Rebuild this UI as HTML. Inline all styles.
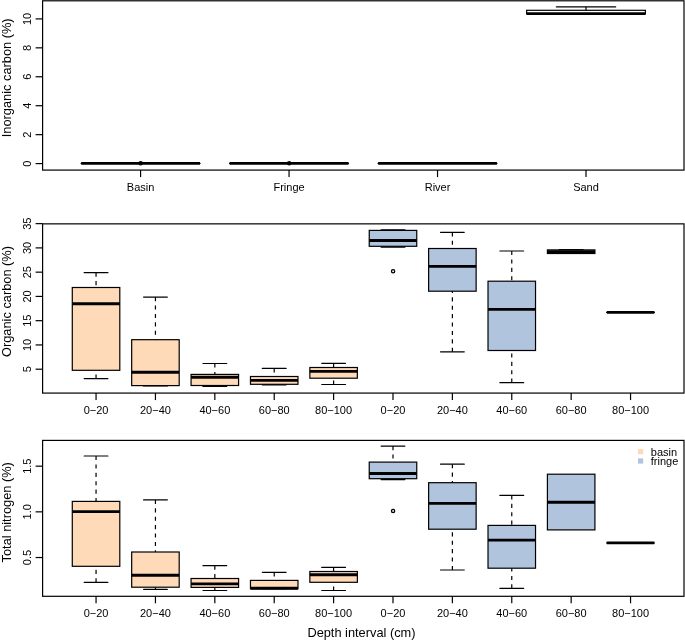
<!DOCTYPE html>
<html><head><meta charset="utf-8"><style>
html,body{margin:0;padding:0;background:#fff;}
body{width:685px;height:641px;overflow:hidden;}
svg{display:block;font-family:"Liberation Sans", sans-serif;will-change:transform;}
</style></head><body>
<svg width="685" height="641" viewBox="0 0 685 641" fill="#000">
<rect x="0" y="0" width="685" height="641" fill="#fff"/>
<line x1="81.20" y1="163.40" x2="199.98" y2="163.40" stroke="#000" stroke-width="1.4" stroke-linecap="round"/>
<line x1="81.20" y1="163.40" x2="199.98" y2="163.40" stroke="#000" stroke-width="2.9" stroke-linecap="butt"/>
<line x1="229.67" y1="163.40" x2="348.45" y2="163.40" stroke="#000" stroke-width="1.4" stroke-linecap="round"/>
<line x1="229.67" y1="163.40" x2="348.45" y2="163.40" stroke="#000" stroke-width="2.9" stroke-linecap="butt"/>
<line x1="378.15" y1="163.40" x2="496.92" y2="163.40" stroke="#000" stroke-width="1.4" stroke-linecap="round"/>
<line x1="378.15" y1="163.40" x2="496.92" y2="163.40" stroke="#000" stroke-width="2.9" stroke-linecap="butt"/>
<circle cx="140.69" cy="163.30" r="1.6" fill="none" stroke="#000" stroke-width="1.35"/>
<circle cx="289.16" cy="163.20" r="1.6" fill="none" stroke="#000" stroke-width="1.35"/>
<line x1="586.01" y1="6.80" x2="586.01" y2="10.30" stroke="#000" stroke-width="1.2" stroke-dasharray="4.1 4.3" stroke-linecap="butt"/>
<line x1="556.31" y1="6.80" x2="615.70" y2="6.80" stroke="#000" stroke-width="1.2" stroke-linecap="round"/>
<line x1="556.31" y1="13.90" x2="615.70" y2="13.90" stroke="#000" stroke-width="1.2" stroke-linecap="round"/>
<rect x="526.62" y="10.30" width="118.78" height="3.60" fill="none" stroke="#000" stroke-width="1.2"/>
<line x1="526.62" y1="13.60" x2="645.40" y2="13.60" stroke="#000" stroke-width="2.9" stroke-linecap="butt"/>
<rect x="42.6" y="0.8" width="641.40" height="169.28" fill="none" stroke="#000" stroke-width="1.2"/>
<line x1="35.60" y1="163.60" x2="42.60" y2="163.60" stroke="#000" stroke-width="1.2" stroke-linecap="butt"/>
<text transform="translate(30.90,163.60) rotate(-90)" font-size="11" text-anchor="middle">0</text>
<line x1="35.60" y1="134.66" x2="42.60" y2="134.66" stroke="#000" stroke-width="1.2" stroke-linecap="butt"/>
<text transform="translate(30.90,134.66) rotate(-90)" font-size="11" text-anchor="middle">2</text>
<line x1="35.60" y1="105.72" x2="42.60" y2="105.72" stroke="#000" stroke-width="1.2" stroke-linecap="butt"/>
<text transform="translate(30.90,105.72) rotate(-90)" font-size="11" text-anchor="middle">4</text>
<line x1="35.60" y1="76.78" x2="42.60" y2="76.78" stroke="#000" stroke-width="1.2" stroke-linecap="butt"/>
<text transform="translate(30.90,76.78) rotate(-90)" font-size="11" text-anchor="middle">6</text>
<line x1="35.60" y1="47.84" x2="42.60" y2="47.84" stroke="#000" stroke-width="1.2" stroke-linecap="butt"/>
<text transform="translate(30.90,47.84) rotate(-90)" font-size="11" text-anchor="middle">8</text>
<line x1="35.60" y1="18.90" x2="42.60" y2="18.90" stroke="#000" stroke-width="1.2" stroke-linecap="butt"/>
<text transform="translate(30.90,18.90) rotate(-90)" font-size="11" text-anchor="middle">10</text>
<line x1="140.59" y1="170.08" x2="140.59" y2="177.08" stroke="#000" stroke-width="1.2" stroke-linecap="butt"/>
<text x="140.59" y="191.20" font-size="11" text-anchor="middle">Basin</text>
<line x1="289.06" y1="170.08" x2="289.06" y2="177.08" stroke="#000" stroke-width="1.2" stroke-linecap="butt"/>
<text x="289.06" y="191.20" font-size="11" text-anchor="middle">Fringe</text>
<line x1="437.54" y1="170.08" x2="437.54" y2="177.08" stroke="#000" stroke-width="1.2" stroke-linecap="butt"/>
<text x="437.54" y="191.20" font-size="11" text-anchor="middle">River</text>
<line x1="586.01" y1="170.08" x2="586.01" y2="177.08" stroke="#000" stroke-width="1.2" stroke-linecap="butt"/>
<text x="586.01" y="191.20" font-size="11" text-anchor="middle">Sand</text>
<text transform="translate(10.90,77.80) rotate(-90)" font-size="12.8" text-anchor="middle">Inorganic carbon (%)</text>
<line x1="96.05" y1="272.70" x2="96.05" y2="287.50" stroke="#000" stroke-width="1.2" stroke-dasharray="4.1 4.3" stroke-linecap="butt"/>
<line x1="96.05" y1="378.60" x2="96.05" y2="370.30" stroke="#000" stroke-width="1.2" stroke-dasharray="4.1 4.3" stroke-linecap="butt"/>
<line x1="84.17" y1="272.70" x2="107.93" y2="272.70" stroke="#000" stroke-width="1.2" stroke-linecap="round"/>
<line x1="84.17" y1="378.60" x2="107.93" y2="378.60" stroke="#000" stroke-width="1.2" stroke-linecap="round"/>
<rect x="72.29" y="287.50" width="47.51" height="82.80" fill="#FFDAB9" stroke="#000" stroke-width="1.2"/>
<line x1="72.29" y1="303.70" x2="119.81" y2="303.70" stroke="#000" stroke-width="2.9" stroke-linecap="butt"/>
<line x1="155.44" y1="297.10" x2="155.44" y2="339.70" stroke="#000" stroke-width="1.2" stroke-dasharray="4.1 4.3" stroke-linecap="butt"/>
<line x1="155.44" y1="386.00" x2="155.44" y2="385.60" stroke="#000" stroke-width="1.2" stroke-dasharray="4.1 4.3" stroke-linecap="butt"/>
<line x1="143.56" y1="297.10" x2="167.32" y2="297.10" stroke="#000" stroke-width="1.2" stroke-linecap="round"/>
<line x1="143.56" y1="386.00" x2="167.32" y2="386.00" stroke="#000" stroke-width="1.2" stroke-linecap="round"/>
<rect x="131.68" y="339.70" width="47.51" height="45.90" fill="#FFDAB9" stroke="#000" stroke-width="1.2"/>
<line x1="131.68" y1="372.30" x2="179.19" y2="372.30" stroke="#000" stroke-width="2.9" stroke-linecap="butt"/>
<line x1="214.83" y1="363.50" x2="214.83" y2="374.40" stroke="#000" stroke-width="1.2" stroke-dasharray="4.1 4.3" stroke-linecap="butt"/>
<line x1="214.83" y1="386.40" x2="214.83" y2="385.50" stroke="#000" stroke-width="1.2" stroke-dasharray="4.1 4.3" stroke-linecap="butt"/>
<line x1="202.95" y1="363.50" x2="226.71" y2="363.50" stroke="#000" stroke-width="1.2" stroke-linecap="round"/>
<line x1="202.95" y1="386.40" x2="226.71" y2="386.40" stroke="#000" stroke-width="1.2" stroke-linecap="round"/>
<rect x="191.07" y="374.40" width="47.51" height="11.10" fill="#FFDAB9" stroke="#000" stroke-width="1.2"/>
<line x1="191.07" y1="377.30" x2="238.58" y2="377.30" stroke="#000" stroke-width="2.9" stroke-linecap="butt"/>
<line x1="274.22" y1="368.40" x2="274.22" y2="376.50" stroke="#000" stroke-width="1.2" stroke-dasharray="4.1 4.3" stroke-linecap="butt"/>
<line x1="274.22" y1="384.80" x2="274.22" y2="384.30" stroke="#000" stroke-width="1.2" stroke-dasharray="4.1 4.3" stroke-linecap="butt"/>
<line x1="262.34" y1="368.40" x2="286.09" y2="368.40" stroke="#000" stroke-width="1.2" stroke-linecap="round"/>
<line x1="262.34" y1="384.80" x2="286.09" y2="384.80" stroke="#000" stroke-width="1.2" stroke-linecap="round"/>
<rect x="250.46" y="376.50" width="47.51" height="7.80" fill="#FFDAB9" stroke="#000" stroke-width="1.2"/>
<line x1="250.46" y1="380.40" x2="297.97" y2="380.40" stroke="#000" stroke-width="2.9" stroke-linecap="butt"/>
<line x1="333.61" y1="363.30" x2="333.61" y2="367.50" stroke="#000" stroke-width="1.2" stroke-dasharray="4.1 4.3" stroke-linecap="butt"/>
<line x1="333.61" y1="384.50" x2="333.61" y2="378.20" stroke="#000" stroke-width="1.2" stroke-dasharray="4.1 4.3" stroke-linecap="butt"/>
<line x1="321.73" y1="363.30" x2="345.48" y2="363.30" stroke="#000" stroke-width="1.2" stroke-linecap="round"/>
<line x1="321.73" y1="384.50" x2="345.48" y2="384.50" stroke="#000" stroke-width="1.2" stroke-linecap="round"/>
<rect x="309.85" y="367.50" width="47.51" height="10.70" fill="#FFDAB9" stroke="#000" stroke-width="1.2"/>
<line x1="309.85" y1="371.40" x2="357.36" y2="371.40" stroke="#000" stroke-width="2.9" stroke-linecap="butt"/>
<line x1="392.99" y1="229.80" x2="392.99" y2="230.40" stroke="#000" stroke-width="1.2" stroke-dasharray="4.1 4.3" stroke-linecap="butt"/>
<line x1="392.99" y1="247.10" x2="392.99" y2="246.30" stroke="#000" stroke-width="1.2" stroke-dasharray="4.1 4.3" stroke-linecap="butt"/>
<line x1="381.12" y1="229.80" x2="404.87" y2="229.80" stroke="#000" stroke-width="1.2" stroke-linecap="round"/>
<line x1="381.12" y1="247.10" x2="404.87" y2="247.10" stroke="#000" stroke-width="1.2" stroke-linecap="round"/>
<rect x="369.24" y="230.40" width="47.51" height="15.90" fill="#B0C4DE" stroke="#000" stroke-width="1.2"/>
<line x1="369.24" y1="240.50" x2="416.75" y2="240.50" stroke="#000" stroke-width="2.9" stroke-linecap="butt"/>
<circle cx="393.09" cy="271.25" r="1.6" fill="none" stroke="#000" stroke-width="1.35"/>
<line x1="452.38" y1="232.30" x2="452.38" y2="248.50" stroke="#000" stroke-width="1.2" stroke-dasharray="4.1 4.3" stroke-linecap="butt"/>
<line x1="452.38" y1="351.80" x2="452.38" y2="291.20" stroke="#000" stroke-width="1.2" stroke-dasharray="4.1 4.3" stroke-linecap="butt"/>
<line x1="440.51" y1="232.30" x2="464.26" y2="232.30" stroke="#000" stroke-width="1.2" stroke-linecap="round"/>
<line x1="440.51" y1="351.80" x2="464.26" y2="351.80" stroke="#000" stroke-width="1.2" stroke-linecap="round"/>
<rect x="428.63" y="248.50" width="47.51" height="42.70" fill="#B0C4DE" stroke="#000" stroke-width="1.2"/>
<line x1="428.63" y1="266.40" x2="476.14" y2="266.40" stroke="#000" stroke-width="2.9" stroke-linecap="butt"/>
<line x1="511.77" y1="251.00" x2="511.77" y2="281.20" stroke="#000" stroke-width="1.2" stroke-dasharray="4.1 4.3" stroke-linecap="butt"/>
<line x1="511.77" y1="382.70" x2="511.77" y2="350.50" stroke="#000" stroke-width="1.2" stroke-dasharray="4.1 4.3" stroke-linecap="butt"/>
<line x1="499.89" y1="251.00" x2="523.65" y2="251.00" stroke="#000" stroke-width="1.2" stroke-linecap="round"/>
<line x1="499.89" y1="382.70" x2="523.65" y2="382.70" stroke="#000" stroke-width="1.2" stroke-linecap="round"/>
<rect x="488.02" y="281.20" width="47.51" height="69.30" fill="#B0C4DE" stroke="#000" stroke-width="1.2"/>
<line x1="488.02" y1="309.40" x2="535.53" y2="309.40" stroke="#000" stroke-width="2.9" stroke-linecap="butt"/>
<line x1="559.28" y1="249.65" x2="583.04" y2="249.65" stroke="#000" stroke-width="1.2" stroke-linecap="round"/>
<rect x="547.41" y="249.90" width="47.51" height="3.60" fill="#B0C4DE" stroke="#000" stroke-width="1.2"/>
<line x1="547.41" y1="251.80" x2="594.92" y2="251.80" stroke="#000" stroke-width="2.9" stroke-linecap="butt"/>
<line x1="618.67" y1="312.40" x2="642.43" y2="312.40" stroke="#000" stroke-width="1.2" stroke-linecap="round"/>
<line x1="618.67" y1="312.40" x2="642.43" y2="312.40" stroke="#000" stroke-width="1.2" stroke-linecap="round"/>
<line x1="606.79" y1="312.40" x2="654.31" y2="312.40" stroke="#000" stroke-width="1.4" stroke-linecap="round"/>
<line x1="606.79" y1="312.40" x2="654.31" y2="312.40" stroke="#000" stroke-width="2.9" stroke-linecap="butt"/>
<rect x="42.6" y="223.86" width="641.40" height="169.22" fill="none" stroke="#000" stroke-width="1.2"/>
<line x1="35.60" y1="369.20" x2="42.60" y2="369.20" stroke="#000" stroke-width="1.2" stroke-linecap="butt"/>
<text transform="translate(30.90,369.20) rotate(-90)" font-size="11" text-anchor="middle">5</text>
<line x1="35.60" y1="344.94" x2="42.60" y2="344.94" stroke="#000" stroke-width="1.2" stroke-linecap="butt"/>
<text transform="translate(30.90,344.94) rotate(-90)" font-size="11" text-anchor="middle">10</text>
<line x1="35.60" y1="320.68" x2="42.60" y2="320.68" stroke="#000" stroke-width="1.2" stroke-linecap="butt"/>
<text transform="translate(30.90,320.68) rotate(-90)" font-size="11" text-anchor="middle">15</text>
<line x1="35.60" y1="296.42" x2="42.60" y2="296.42" stroke="#000" stroke-width="1.2" stroke-linecap="butt"/>
<text transform="translate(30.90,296.42) rotate(-90)" font-size="11" text-anchor="middle">20</text>
<line x1="35.60" y1="272.16" x2="42.60" y2="272.16" stroke="#000" stroke-width="1.2" stroke-linecap="butt"/>
<text transform="translate(30.90,272.16) rotate(-90)" font-size="11" text-anchor="middle">25</text>
<line x1="35.60" y1="247.90" x2="42.60" y2="247.90" stroke="#000" stroke-width="1.2" stroke-linecap="butt"/>
<text transform="translate(30.90,247.90) rotate(-90)" font-size="11" text-anchor="middle">30</text>
<line x1="35.60" y1="223.64" x2="42.60" y2="223.64" stroke="#000" stroke-width="1.2" stroke-linecap="butt"/>
<text transform="translate(30.90,223.64) rotate(-90)" font-size="11" text-anchor="middle">35</text>
<line x1="96.05" y1="393.08" x2="96.05" y2="400.08" stroke="#000" stroke-width="1.2" stroke-linecap="butt"/>
<text x="96.05" y="414.00" font-size="11" text-anchor="middle">0−20</text>
<line x1="155.44" y1="393.08" x2="155.44" y2="400.08" stroke="#000" stroke-width="1.2" stroke-linecap="butt"/>
<text x="155.44" y="414.00" font-size="11" text-anchor="middle">20−40</text>
<line x1="214.83" y1="393.08" x2="214.83" y2="400.08" stroke="#000" stroke-width="1.2" stroke-linecap="butt"/>
<text x="214.83" y="414.00" font-size="11" text-anchor="middle">40−60</text>
<line x1="274.22" y1="393.08" x2="274.22" y2="400.08" stroke="#000" stroke-width="1.2" stroke-linecap="butt"/>
<text x="274.22" y="414.00" font-size="11" text-anchor="middle">60−80</text>
<line x1="333.61" y1="393.08" x2="333.61" y2="400.08" stroke="#000" stroke-width="1.2" stroke-linecap="butt"/>
<text x="333.61" y="414.00" font-size="11" text-anchor="middle">80−100</text>
<line x1="392.99" y1="393.08" x2="392.99" y2="400.08" stroke="#000" stroke-width="1.2" stroke-linecap="butt"/>
<text x="392.99" y="414.00" font-size="11" text-anchor="middle">0−20</text>
<line x1="452.38" y1="393.08" x2="452.38" y2="400.08" stroke="#000" stroke-width="1.2" stroke-linecap="butt"/>
<text x="452.38" y="414.00" font-size="11" text-anchor="middle">20−40</text>
<line x1="511.77" y1="393.08" x2="511.77" y2="400.08" stroke="#000" stroke-width="1.2" stroke-linecap="butt"/>
<text x="511.77" y="414.00" font-size="11" text-anchor="middle">40−60</text>
<line x1="571.16" y1="393.08" x2="571.16" y2="400.08" stroke="#000" stroke-width="1.2" stroke-linecap="butt"/>
<text x="571.16" y="414.00" font-size="11" text-anchor="middle">60−80</text>
<line x1="630.55" y1="393.08" x2="630.55" y2="400.08" stroke="#000" stroke-width="1.2" stroke-linecap="butt"/>
<text x="630.55" y="414.00" font-size="11" text-anchor="middle">80−100</text>
<text transform="translate(10.90,301.50) rotate(-90)" font-size="12.8" text-anchor="middle">Organic carbon (%)</text>
<line x1="96.05" y1="456.00" x2="96.05" y2="501.40" stroke="#000" stroke-width="1.2" stroke-dasharray="4.1 4.3" stroke-linecap="butt"/>
<line x1="96.05" y1="582.30" x2="96.05" y2="566.30" stroke="#000" stroke-width="1.2" stroke-dasharray="4.1 4.3" stroke-linecap="butt"/>
<line x1="84.17" y1="456.00" x2="107.93" y2="456.00" stroke="#000" stroke-width="1.2" stroke-linecap="round"/>
<line x1="84.17" y1="582.30" x2="107.93" y2="582.30" stroke="#000" stroke-width="1.2" stroke-linecap="round"/>
<rect x="72.29" y="501.40" width="47.51" height="64.90" fill="#FFDAB9" stroke="#000" stroke-width="1.2"/>
<line x1="72.29" y1="511.60" x2="119.81" y2="511.60" stroke="#000" stroke-width="2.9" stroke-linecap="butt"/>
<line x1="155.44" y1="499.90" x2="155.44" y2="552.00" stroke="#000" stroke-width="1.2" stroke-dasharray="4.1 4.3" stroke-linecap="butt"/>
<line x1="155.44" y1="589.30" x2="155.44" y2="587.20" stroke="#000" stroke-width="1.2" stroke-dasharray="4.1 4.3" stroke-linecap="butt"/>
<line x1="143.56" y1="499.90" x2="167.32" y2="499.90" stroke="#000" stroke-width="1.2" stroke-linecap="round"/>
<line x1="143.56" y1="589.30" x2="167.32" y2="589.30" stroke="#000" stroke-width="1.2" stroke-linecap="round"/>
<rect x="131.68" y="552.00" width="47.51" height="35.20" fill="#FFDAB9" stroke="#000" stroke-width="1.2"/>
<line x1="131.68" y1="575.30" x2="179.19" y2="575.30" stroke="#000" stroke-width="2.9" stroke-linecap="butt"/>
<line x1="214.83" y1="565.70" x2="214.83" y2="578.50" stroke="#000" stroke-width="1.2" stroke-dasharray="4.1 4.3" stroke-linecap="butt"/>
<line x1="214.83" y1="590.50" x2="214.83" y2="587.40" stroke="#000" stroke-width="1.2" stroke-dasharray="4.1 4.3" stroke-linecap="butt"/>
<line x1="202.95" y1="565.70" x2="226.71" y2="565.70" stroke="#000" stroke-width="1.2" stroke-linecap="round"/>
<line x1="202.95" y1="590.50" x2="226.71" y2="590.50" stroke="#000" stroke-width="1.2" stroke-linecap="round"/>
<rect x="191.07" y="578.50" width="47.51" height="8.90" fill="#FFDAB9" stroke="#000" stroke-width="1.2"/>
<line x1="191.07" y1="583.90" x2="238.58" y2="583.90" stroke="#000" stroke-width="2.9" stroke-linecap="butt"/>
<line x1="274.22" y1="572.30" x2="274.22" y2="580.40" stroke="#000" stroke-width="1.2" stroke-dasharray="4.1 4.3" stroke-linecap="butt"/>
<line x1="262.34" y1="572.30" x2="286.09" y2="572.30" stroke="#000" stroke-width="1.2" stroke-linecap="round"/>
<line x1="262.34" y1="588.70" x2="286.09" y2="588.70" stroke="#000" stroke-width="1.2" stroke-linecap="round"/>
<rect x="250.46" y="580.40" width="47.51" height="8.30" fill="#FFDAB9" stroke="#000" stroke-width="1.2"/>
<line x1="250.46" y1="588.30" x2="297.97" y2="588.30" stroke="#000" stroke-width="2.9" stroke-linecap="butt"/>
<line x1="333.61" y1="567.40" x2="333.61" y2="571.50" stroke="#000" stroke-width="1.2" stroke-dasharray="4.1 4.3" stroke-linecap="butt"/>
<line x1="333.61" y1="590.50" x2="333.61" y2="582.30" stroke="#000" stroke-width="1.2" stroke-dasharray="4.1 4.3" stroke-linecap="butt"/>
<line x1="321.73" y1="567.40" x2="345.48" y2="567.40" stroke="#000" stroke-width="1.2" stroke-linecap="round"/>
<line x1="321.73" y1="590.50" x2="345.48" y2="590.50" stroke="#000" stroke-width="1.2" stroke-linecap="round"/>
<rect x="309.85" y="571.50" width="47.51" height="10.80" fill="#FFDAB9" stroke="#000" stroke-width="1.2"/>
<line x1="309.85" y1="574.70" x2="357.36" y2="574.70" stroke="#000" stroke-width="2.9" stroke-linecap="butt"/>
<line x1="392.99" y1="446.10" x2="392.99" y2="462.10" stroke="#000" stroke-width="1.2" stroke-dasharray="4.1 4.3" stroke-linecap="butt"/>
<line x1="392.99" y1="479.60" x2="392.99" y2="478.70" stroke="#000" stroke-width="1.2" stroke-dasharray="4.1 4.3" stroke-linecap="butt"/>
<line x1="381.12" y1="446.10" x2="404.87" y2="446.10" stroke="#000" stroke-width="1.2" stroke-linecap="round"/>
<line x1="381.12" y1="479.60" x2="404.87" y2="479.60" stroke="#000" stroke-width="1.2" stroke-linecap="round"/>
<rect x="369.24" y="462.10" width="47.51" height="16.60" fill="#B0C4DE" stroke="#000" stroke-width="1.2"/>
<line x1="369.24" y1="473.50" x2="416.75" y2="473.50" stroke="#000" stroke-width="2.9" stroke-linecap="butt"/>
<circle cx="393.09" cy="510.90" r="1.6" fill="none" stroke="#000" stroke-width="1.35"/>
<line x1="452.38" y1="464.20" x2="452.38" y2="482.70" stroke="#000" stroke-width="1.2" stroke-dasharray="4.1 4.3" stroke-linecap="butt"/>
<line x1="452.38" y1="570.00" x2="452.38" y2="529.20" stroke="#000" stroke-width="1.2" stroke-dasharray="4.1 4.3" stroke-linecap="butt"/>
<line x1="440.51" y1="464.20" x2="464.26" y2="464.20" stroke="#000" stroke-width="1.2" stroke-linecap="round"/>
<line x1="440.51" y1="570.00" x2="464.26" y2="570.00" stroke="#000" stroke-width="1.2" stroke-linecap="round"/>
<rect x="428.63" y="482.70" width="47.51" height="46.50" fill="#B0C4DE" stroke="#000" stroke-width="1.2"/>
<line x1="428.63" y1="503.40" x2="476.14" y2="503.40" stroke="#000" stroke-width="2.9" stroke-linecap="butt"/>
<line x1="511.77" y1="495.40" x2="511.77" y2="525.40" stroke="#000" stroke-width="1.2" stroke-dasharray="4.1 4.3" stroke-linecap="butt"/>
<line x1="511.77" y1="588.40" x2="511.77" y2="568.20" stroke="#000" stroke-width="1.2" stroke-dasharray="4.1 4.3" stroke-linecap="butt"/>
<line x1="499.89" y1="495.40" x2="523.65" y2="495.40" stroke="#000" stroke-width="1.2" stroke-linecap="round"/>
<line x1="499.89" y1="588.40" x2="523.65" y2="588.40" stroke="#000" stroke-width="1.2" stroke-linecap="round"/>
<rect x="488.02" y="525.40" width="47.51" height="42.80" fill="#B0C4DE" stroke="#000" stroke-width="1.2"/>
<line x1="488.02" y1="540.10" x2="535.53" y2="540.10" stroke="#000" stroke-width="2.9" stroke-linecap="butt"/>
<rect x="547.41" y="474.20" width="47.51" height="55.70" fill="#B0C4DE" stroke="#000" stroke-width="1.2"/>
<line x1="547.41" y1="502.30" x2="594.92" y2="502.30" stroke="#000" stroke-width="2.9" stroke-linecap="butt"/>
<line x1="618.67" y1="542.90" x2="642.43" y2="542.90" stroke="#000" stroke-width="1.2" stroke-linecap="round"/>
<line x1="618.67" y1="542.90" x2="642.43" y2="542.90" stroke="#000" stroke-width="1.2" stroke-linecap="round"/>
<line x1="606.79" y1="542.90" x2="654.31" y2="542.90" stroke="#000" stroke-width="1.4" stroke-linecap="round"/>
<line x1="606.79" y1="542.90" x2="654.31" y2="542.90" stroke="#000" stroke-width="2.9" stroke-linecap="butt"/>
<rect x="42.6" y="440.4" width="641.40" height="155.90" fill="none" stroke="#000" stroke-width="1.2"/>
<line x1="35.60" y1="557.53" x2="42.60" y2="557.53" stroke="#000" stroke-width="1.2" stroke-linecap="butt"/>
<text transform="translate(30.90,557.53) rotate(-90)" font-size="11" text-anchor="middle">0.5</text>
<line x1="35.60" y1="511.85" x2="42.60" y2="511.85" stroke="#000" stroke-width="1.2" stroke-linecap="butt"/>
<text transform="translate(30.90,511.85) rotate(-90)" font-size="11" text-anchor="middle">1.0</text>
<line x1="35.60" y1="466.18" x2="42.60" y2="466.18" stroke="#000" stroke-width="1.2" stroke-linecap="butt"/>
<text transform="translate(30.90,466.18) rotate(-90)" font-size="11" text-anchor="middle">1.5</text>
<line x1="96.05" y1="596.30" x2="96.05" y2="603.30" stroke="#000" stroke-width="1.2" stroke-linecap="butt"/>
<text x="96.05" y="616.90" font-size="11" text-anchor="middle">0−20</text>
<line x1="155.44" y1="596.30" x2="155.44" y2="603.30" stroke="#000" stroke-width="1.2" stroke-linecap="butt"/>
<text x="155.44" y="616.90" font-size="11" text-anchor="middle">20−40</text>
<line x1="214.83" y1="596.30" x2="214.83" y2="603.30" stroke="#000" stroke-width="1.2" stroke-linecap="butt"/>
<text x="214.83" y="616.90" font-size="11" text-anchor="middle">40−60</text>
<line x1="274.22" y1="596.30" x2="274.22" y2="603.30" stroke="#000" stroke-width="1.2" stroke-linecap="butt"/>
<text x="274.22" y="616.90" font-size="11" text-anchor="middle">60−80</text>
<line x1="333.61" y1="596.30" x2="333.61" y2="603.30" stroke="#000" stroke-width="1.2" stroke-linecap="butt"/>
<text x="333.61" y="616.90" font-size="11" text-anchor="middle">80−100</text>
<line x1="392.99" y1="596.30" x2="392.99" y2="603.30" stroke="#000" stroke-width="1.2" stroke-linecap="butt"/>
<text x="392.99" y="616.90" font-size="11" text-anchor="middle">0−20</text>
<line x1="452.38" y1="596.30" x2="452.38" y2="603.30" stroke="#000" stroke-width="1.2" stroke-linecap="butt"/>
<text x="452.38" y="616.90" font-size="11" text-anchor="middle">20−40</text>
<line x1="511.77" y1="596.30" x2="511.77" y2="603.30" stroke="#000" stroke-width="1.2" stroke-linecap="butt"/>
<text x="511.77" y="616.90" font-size="11" text-anchor="middle">40−60</text>
<line x1="571.16" y1="596.30" x2="571.16" y2="603.30" stroke="#000" stroke-width="1.2" stroke-linecap="butt"/>
<text x="571.16" y="616.90" font-size="11" text-anchor="middle">60−80</text>
<line x1="630.55" y1="596.30" x2="630.55" y2="603.30" stroke="#000" stroke-width="1.2" stroke-linecap="butt"/>
<text x="630.55" y="616.90" font-size="11" text-anchor="middle">80−100</text>
<text transform="translate(10.90,512.30) rotate(-90)" font-size="12.8" text-anchor="middle">Total nitrogen (%)</text>
<text x="361.45" y="636.50" font-size="12.8" text-anchor="middle">Depth interval (cm)</text>
<rect x="638" y="449" width="5.2" height="5.2" fill="#FFDAB9"/>
<rect x="638" y="458.4" width="5.2" height="5.2" fill="#B0C4DE"/>
<text x="650.80" y="455.70" font-size="11" text-anchor="start">basin</text>
<text x="650.80" y="465.10" font-size="11" text-anchor="start">fringe</text>
</svg>
</body></html>
